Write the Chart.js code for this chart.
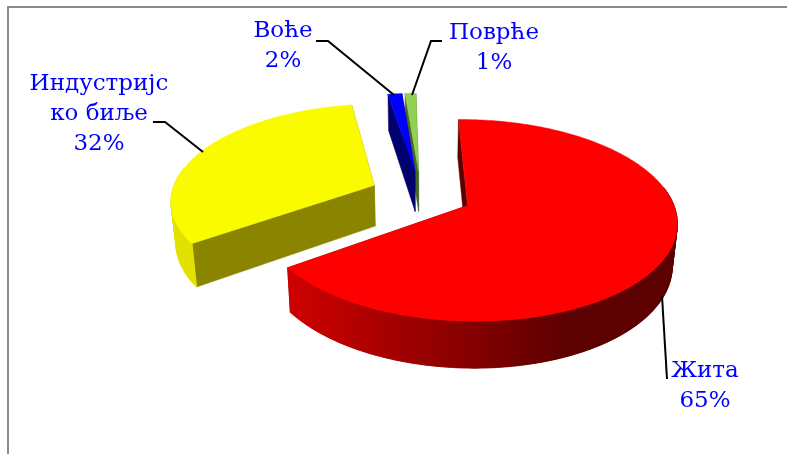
<!DOCTYPE html>
<html><head><meta charset="utf-8">
<style>html,body{margin:0;padding:0;background:#fff}canvas{display:block}</style>
<script src="https://cdn.jsdelivr.net/npm/chart.js@4"></script>
</head><body><canvas id="c" width="787" height="454"></canvas>
<script>
const categories = ['Жита', 'Индустријско биље', 'Воће', 'Поврће'];
const values = [65.5, 32.2, 1.3, 1.0];
const labelLines = [['Жита','65%'],['Индустријс','ко биље','32%'],['Воће','2%'],['Поврће','1%']];

const topColors = ['#ff0000','#fbfb00','#0000ff','#92d050'];
const cutColors = ['#5c0000','#8a8500','#00006e','#48682a'];
const rimColors = ['#660000','#e2e200','#00006e','#48682a'];
const labelAnchors = [[705,371],[99,84],[283,31],[494,33]];
const leaders = [
  [[667,379],[662,296]],
  [[153,122],[165,122],[203,152]],
  [[316,41],[328,41],[394,95]],
  [[442,41],[431,41],[412,95]]
];
const view = {cx:421, cy:194.5, R:203, k:0.144, flat:0.47, depth:41.2, taper:0.98};

function project(X,Y,low){
  const s = 1/(1 - view.k*Y/view.R);
  let x = view.cx + X*s, y = view.cy + view.flat*Y*s;
  if(low){ x = view.cx + (x-view.cx)*view.taper; y += view.depth*Math.pow(s,0.75); }
  return [x,y];
}
function poly(ctx,pts,fill){
  ctx.beginPath();
  pts.forEach((p,i)=> i? ctx.lineTo(p[0],p[1]) : ctx.moveTo(p[0],p[1]));
  ctx.closePath();
  ctx.fillStyle = fill; ctx.fill();
  ctx.strokeStyle = fill; ctx.lineWidth = 0.5; ctx.stroke();
}
const pie3d = {
  id:'pie3d',
  beforeDatasetsDraw(chart){
    const ctx = chart.ctx, arcs = chart.getDatasetMeta(0).data;
    ctx.save();
    ctx.strokeStyle='#898989'; ctx.lineWidth=2;
    ctx.beginPath(); ctx.moveTo(8,454); ctx.lineTo(8,7); ctx.lineTo(787,7); ctx.stroke();
    for(let i=arcs.length-1;i>=0;i--){
      const a = arcs[i], f = view.R/a.outerRadius;
      const mid = (a.startAngle+a.endAngle)/2, off = a.options.offset*f;
      const ox = Math.cos(mid)*off, oy = Math.sin(mid)*off;
      const rim = [], front = [];
      const n = Math.max(8, Math.round((a.endAngle-a.startAngle)*60));
      for(let j=0;j<=n;j++){
        const t = a.startAngle+(a.endAngle-a.startAngle)*j/n;
        const p = [ox+Math.cos(t)*view.R, oy+Math.sin(t)*view.R];
        rim.push(p);
        if(Math.sin(t) > -0.2) front.push(p);
      }
      const P = (p,l)=>project(p[0],p[1],l), apex=[ox,oy];
      const first = rim[0], last = rim[rim.length-1];
      poly(ctx,[P(apex),P(first),P(first,true),P(apex,true)],cutColors[i]);
      poly(ctx,[P(apex),P(last),P(last,true),P(apex,true)],cutColors[i]);
      let rimFill = rimColors[i];
      if(i===0){
        const g = ctx.createLinearGradient(290,0,570,0);
        g.addColorStop(0,'#cf0000'); g.addColorStop(1,'#5c0000');
        rimFill = g;
      }
      if(front.length > 1){
        poly(ctx,front.map(p=>P(p)).concat(front.slice().reverse().map(p=>P(p,true))),rimFill);
        for(let j=0;j<front.length-1;j++){
          poly(ctx,[P(front[j]),P(front[j+1]),P(front[j+1],true),P(front[j],true)],rimFill);
        }
      }
      poly(ctx,[P(apex)].concat(rim.map(p=>P(p))),topColors[i]);
    }
    ctx.strokeStyle='#000'; ctx.lineWidth=2; ctx.lineJoin='miter';
    leaders.forEach(l=>{ctx.beginPath();l.forEach((p,j)=>j?ctx.lineTo(p[0],p[1]):ctx.moveTo(p[0],p[1]));ctx.stroke();});
    ctx.fillStyle='#0000ff'; ctx.textAlign='center'; ctx.textBaseline='middle';
    ctx.font='23px "DejaVu Serif"';
    labelLines.forEach((ls,i)=>ls.forEach((t,j)=>ctx.fillText(t,labelAnchors[i][0],labelAnchors[i][1]+j*30)));
    ctx.restore();
  },
  beforeDatasetDraw(){ return false; }
};
new Chart(document.getElementById('c'),{
  type:'pie',
  data:{labels:categories,datasets:[{data:values,backgroundColor:topColors,offset:51,borderWidth:0}]},
  options:{responsive:false,animation:false,events:[],rotation:-1.0,
    layout:{padding:0},plugins:{legend:{display:false},tooltip:{enabled:false}}},
  plugins:[pie3d]
});
</script></body></html>
